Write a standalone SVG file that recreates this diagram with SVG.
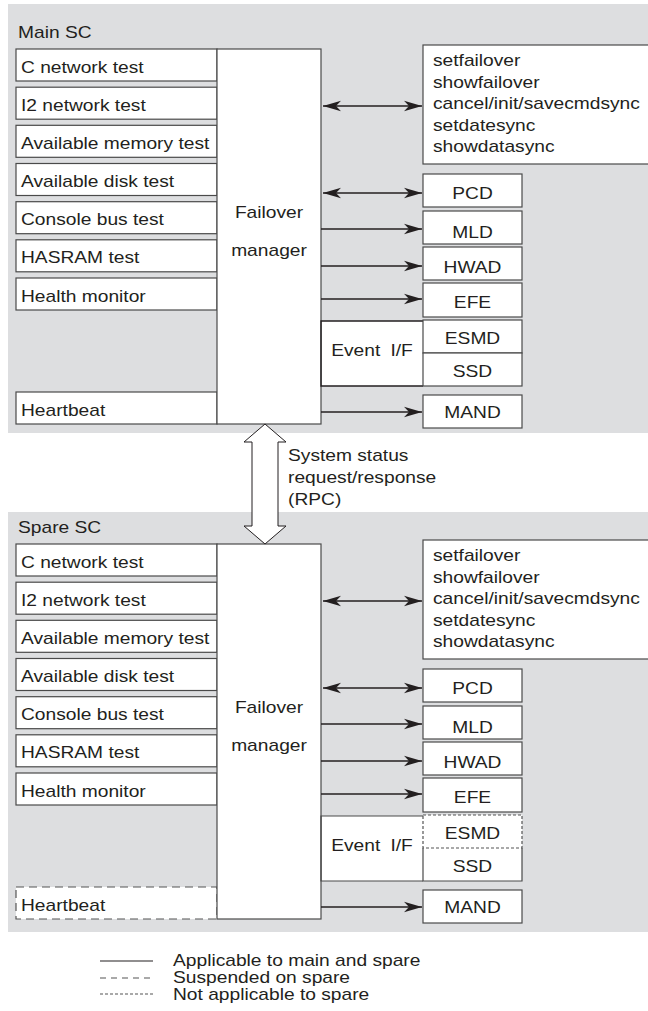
<svg xmlns="http://www.w3.org/2000/svg" width="648" height="1011" viewBox="0 0 648 1011">
<style>
.t{font-family:"Liberation Sans",Arial,sans-serif;font-size:16px;fill:#231f20}
.m{text-anchor:middle}
.box{fill:#fff;stroke:#4a4a4a;stroke-width:1.2}
.panel{fill:#dddee0}
.ln{stroke:#231f20;stroke-width:1.3;fill:none}
.dash{fill:#fff;stroke:#555;stroke-width:1.2;stroke-dasharray:8 5}
.fine{fill:#fff;stroke:#555;stroke-width:1.2;stroke-dasharray:3 2}
</style>
<defs>
<marker id="ah" markerUnits="userSpaceOnUse" refX="0" refY="0" markerWidth="20" markerHeight="12" viewBox="-19 -6 20 12" orient="auto-start-reverse" overflow="visible">
<path d="M0,0 L-18,-5.3 L-13,0 L-18,5.3 Z" fill="#231f20"/>
</marker>
</defs>

<!-- panels -->
<rect class="panel" x="8" y="4" width="650" height="429"/>
<rect class="panel" x="8" y="512" width="650" height="420"/>
<text class="t" transform="translate(18 38) scale(1.2 1)">Main SC</text>
<text class="t" transform="translate(18 533) scale(1.2 1)">Spare SC</text>

<!-- MAIN -->
<g id="main-cnet"><rect class="box" x="16" y="49" width="201" height="32"/><text class="t" transform="translate(21 72.5) scale(1.2 1)">C network test</text></g>
<g id="main-i2net"><rect class="box" x="16" y="87.2" width="201" height="32"/><text class="t" transform="translate(21 110.7) scale(1.2 1)">I2 network test</text></g>
<g id="main-mem"><rect class="box" x="16" y="125.3" width="201" height="32"/><text class="t" transform="translate(21 148.8) scale(1.2 1)">Available memory test</text></g>
<g id="main-disk"><rect class="box" x="16" y="163.5" width="201" height="32"/><text class="t" transform="translate(21 187) scale(1.2 1)">Available disk test</text></g>
<g id="main-console"><rect class="box" x="16" y="201.7" width="201" height="32"/><text class="t" transform="translate(21 225.2) scale(1.2 1)">Console bus test</text></g>
<g id="main-hasram"><rect class="box" x="16" y="239.8" width="201" height="32"/><text class="t" transform="translate(21 263.3) scale(1.2 1)">HASRAM test</text></g>
<g id="main-health"><rect class="box" x="16" y="278" width="201" height="32"/><text class="t" transform="translate(21 301.5) scale(1.2 1)">Health monitor</text></g>
<g id="main-heartbeat"><rect class="box" x="16" y="392" width="201" height="32"/><text class="t" transform="translate(21 416) scale(1.2 1)">Heartbeat</text></g>
<g id="main-failover"><rect class="box" x="217" y="49" width="104" height="375"/><text class="t m" transform="translate(269 218) scale(1.2 1)">Failover</text><text class="t m" transform="translate(269 256) scale(1.2 1)">manager</text></g>
<g id="main-cmds"><rect class="box" x="423" y="45" width="240" height="119"/>
<text class="t" transform="translate(433 66) scale(1.2 1)">setfailover</text>
<text class="t" transform="translate(433 87.5) scale(1.2 1)">showfailover</text>
<text class="t" transform="translate(433 109) scale(1.2 1)">cancel/init/savecmdsync</text>
<text class="t" transform="translate(433 130.5) scale(1.2 1)">setdatesync</text>
<text class="t" transform="translate(433 152) scale(1.2 1)">showdatasync</text></g>
<g id="main-pcd"><rect class="box" x="423" y="174" width="99" height="33"/><text class="t m" transform="translate(472.5 199) scale(1.2 1)">PCD</text></g>
<g id="main-mld"><rect class="box" x="423" y="211" width="99" height="33"/><text class="t m" transform="translate(472.5 238) scale(1.2 1)">MLD</text></g>
<g id="main-hwad"><rect class="box" x="423" y="247" width="99" height="33"/><text class="t m" transform="translate(472.5 273) scale(1.2 1)">HWAD</text></g>
<g id="main-efe"><rect class="box" x="423" y="283" width="99" height="34"/><text class="t m" transform="translate(472.5 308) scale(1.2 1)">EFE</text></g>
<g id="main-eventif"><rect x="322" y="321" width="101" height="65" fill="#fff"/><path class="ln" d="M423,321 H321 V386 H423" stroke="#4a4a4a" stroke-width="1.2"/><text class="t m" transform="translate(372 356) scale(1.2 1)">Event <tspan dx="4">I/F</tspan></text></g>
<g id="main-esmd"><rect class="box" x="423" y="320" width="99" height="33"/><text class="t m" transform="translate(472.5 344) scale(1.2 1)">ESMD</text></g>
<g id="main-ssd"><rect class="box" x="423" y="353" width="99" height="33"/><text class="t m" transform="translate(472.5 377) scale(1.2 1)">SSD</text></g>
<g id="main-mand"><rect class="box" x="423" y="395" width="99" height="33"/><text class="t m" transform="translate(472.5 418) scale(1.2 1)">MAND</text></g>

<!-- SPARE -->
<g id="spare-cnet"><rect class="box" x="16" y="544" width="201" height="32"/><text class="t" transform="translate(21 567.5) scale(1.2 1)">C network test</text></g>
<g id="spare-i2net"><rect class="box" x="16" y="582.2" width="201" height="32"/><text class="t" transform="translate(21 605.7) scale(1.2 1)">I2 network test</text></g>
<g id="spare-mem"><rect class="box" x="16" y="620.3" width="201" height="32"/><text class="t" transform="translate(21 643.8) scale(1.2 1)">Available memory test</text></g>
<g id="spare-disk"><rect class="box" x="16" y="658.5" width="201" height="32"/><text class="t" transform="translate(21 682) scale(1.2 1)">Available disk test</text></g>
<g id="spare-console"><rect class="box" x="16" y="696.7" width="201" height="32"/><text class="t" transform="translate(21 720.2) scale(1.2 1)">Console bus test</text></g>
<g id="spare-hasram"><rect class="box" x="16" y="734.8" width="201" height="32"/><text class="t" transform="translate(21 758.3) scale(1.2 1)">HASRAM test</text></g>
<g id="spare-health"><rect class="box" x="16" y="773" width="201" height="32"/><text class="t" transform="translate(21 796.5) scale(1.2 1)">Health monitor</text></g>
<g id="spare-heartbeat"><rect class="dash" x="16" y="887" width="201" height="32"/><text class="t" transform="translate(21 911) scale(1.2 1)">Heartbeat</text></g>
<g id="spare-failover"><rect class="box" x="217" y="544" width="104" height="375"/><text class="t m" transform="translate(269 713) scale(1.2 1)">Failover</text><text class="t m" transform="translate(269 751) scale(1.2 1)">manager</text></g>
<g id="spare-cmds"><rect class="box" x="423" y="540" width="240" height="119"/>
<text class="t" transform="translate(433 561) scale(1.2 1)">setfailover</text>
<text class="t" transform="translate(433 582.5) scale(1.2 1)">showfailover</text>
<text class="t" transform="translate(433 604) scale(1.2 1)">cancel/init/savecmdsync</text>
<text class="t" transform="translate(433 625.5) scale(1.2 1)">setdatesync</text>
<text class="t" transform="translate(433 647) scale(1.2 1)">showdatasync</text></g>
<g id="spare-pcd"><rect class="box" x="423" y="669" width="99" height="33"/><text class="t m" transform="translate(472.5 694) scale(1.2 1)">PCD</text></g>
<g id="spare-mld"><rect class="box" x="423" y="706" width="99" height="33"/><text class="t m" transform="translate(472.5 733) scale(1.2 1)">MLD</text></g>
<g id="spare-hwad"><rect class="box" x="423" y="742" width="99" height="33"/><text class="t m" transform="translate(472.5 768) scale(1.2 1)">HWAD</text></g>
<g id="spare-efe"><rect class="box" x="423" y="778" width="99" height="34"/><text class="t m" transform="translate(472.5 803) scale(1.2 1)">EFE</text></g>
<g id="spare-eventif"><rect x="322" y="816" width="101" height="65" fill="#fff"/><path d="M423,816 H321 V881 H423" fill="none" stroke="#4a4a4a" stroke-width="1.2"/><text class="t m" transform="translate(372 851) scale(1.2 1)">Event <tspan dx="4">I/F</tspan></text></g>
<g id="spare-ssd"><rect x="423" y="848" width="99" height="33" fill="#fff"/><path d="M423,848 V881 H522 V848" fill="none" stroke="#4a4a4a" stroke-width="1.2"/><text class="t m" transform="translate(472.5 872) scale(1.2 1)">SSD</text></g>
<g id="spare-esmd"><rect class="fine" x="423" y="815" width="99" height="33"/><text class="t m" transform="translate(472.5 839) scale(1.2 1)">ESMD</text></g>
<g id="spare-mand"><rect class="box" x="423" y="890" width="99" height="33"/><text class="t m" transform="translate(472.5 913) scale(1.2 1)">MAND</text></g>

<!-- connectors -->
<g id="connectors">
<line class="ln" x1="323" y1="106" x2="422" y2="106" marker-start="url(#ah)" marker-end="url(#ah)"/>
<line class="ln" x1="323" y1="193" x2="422" y2="193" marker-start="url(#ah)" marker-end="url(#ah)"/>
<line class="ln" x1="321" y1="229" x2="422" y2="229" marker-end="url(#ah)"/>
<line class="ln" x1="321" y1="266" x2="422" y2="266" marker-end="url(#ah)"/>
<line class="ln" x1="321" y1="299" x2="422" y2="299" marker-end="url(#ah)"/>
<line class="ln" x1="321" y1="412" x2="422" y2="412" marker-end="url(#ah)"/>
<line class="ln" x1="323" y1="601" x2="422" y2="601" marker-start="url(#ah)" marker-end="url(#ah)"/>
<line class="ln" x1="323" y1="688" x2="422" y2="688" marker-start="url(#ah)" marker-end="url(#ah)"/>
<line class="ln" x1="321" y1="724" x2="422" y2="724" marker-end="url(#ah)"/>
<line class="ln" x1="321" y1="761" x2="422" y2="761" marker-end="url(#ah)"/>
<line class="ln" x1="321" y1="794" x2="422" y2="794" marker-end="url(#ah)"/>
<line class="ln" x1="321" y1="907" x2="422" y2="907" marker-end="url(#ah)"/>
<polygon points="265,424 286,442 278,442 278,526 286,526 265,544 244,526 252,526 252,442 244,442" fill="#fff" stroke="#231f20" stroke-width="1"/>
</g>
<g id="rpc-label">
<text class="t" transform="translate(288 461) scale(1.2 1)">System status</text>
<text class="t" transform="translate(288 483) scale(1.2 1)">request/response</text>
<text class="t" transform="translate(288 505) scale(1.2 1)">(RPC)</text>
</g>

<!-- legend -->
<g id="legend">
<line x1="100" y1="961" x2="153" y2="961" stroke="#231f20" stroke-width="1.2"/>
<line x1="100" y1="978" x2="153" y2="978" stroke="#555" stroke-width="1.2" stroke-dasharray="6 5"/>
<line x1="100" y1="994" x2="153" y2="994" stroke="#555" stroke-width="1.2" stroke-dasharray="3 2"/>
<text class="t" transform="translate(173 966) scale(1.2 1)">Applicable to main and spare</text>
<text class="t" transform="translate(173 983) scale(1.2 1)">Suspended on spare</text>
<text class="t" transform="translate(173 1000) scale(1.2 1)">Not applicable to spare</text>
</g>
</svg>
